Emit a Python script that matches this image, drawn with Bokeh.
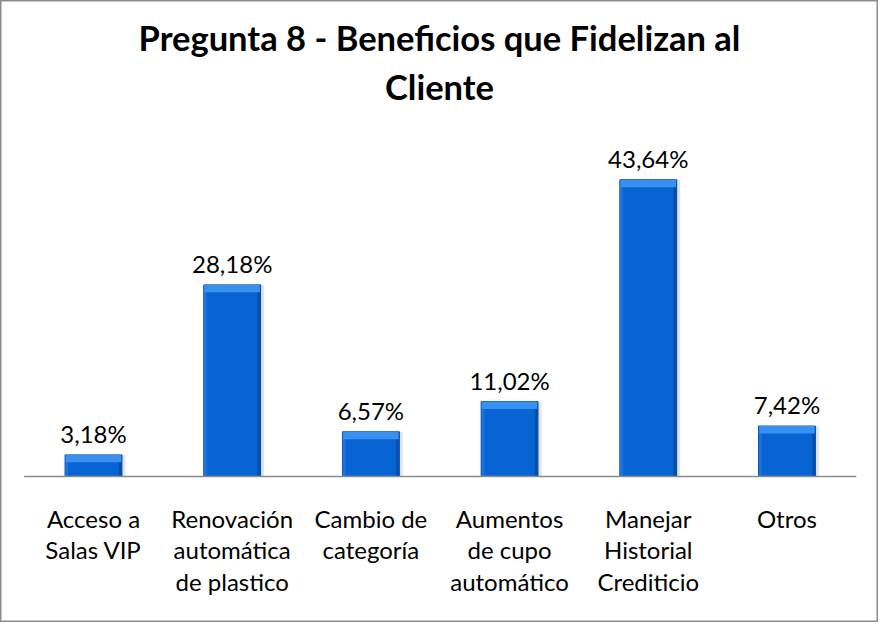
from bokeh.plotting import figure
from bokeh.models import Range1d, ColumnDataSource
from bokeh.core.properties import value
from bokeh.embed import file_html
from bokeh.resources import INLINE

title_lines = ["Pregunta 8 - Beneficios que Fidelizan al", "Cliente"]
categories = ["Acceso a\nSalas VIP", "Renovación\nautomática\nde plastico", "Cambio de\ncategoría",
              "Aumentos\nde cupo\nautomático", "Manejar\nHistorial\nCrediticio", "Otros"]
values = [3.18, 28.18, 6.57, 11.02, 43.64, 7.42]
labels = ["3,18%", "28,18%", "6,57%", "11,02%", "43,64%", "7,42%"]

FONT = "Lato"
W, H = 878, 622
BW = 0.41
xs = list(range(len(categories)))

p = figure(width=W, height=H, output_backend="svg", toolbar_location=None,
           x_range=Range1d(-0.6705, len(categories) - 1 + 0.66),
           y_range=Range1d(-21.47, 70.0), min_border=0)
p.axis.visible = False
p.grid.visible = False
p.background_fill_color = "white"
p.border_fill_color = "white"
p.outline_line_color = "#8c8c8c"
p.outline_line_width = 2

src = ColumnDataSource(dict(x=xs, top=values, lab=labels, cat=categories,
                            hl=[v - 1.1 for v in values],
                            sh=[x + 0.025 for x in xs],
                            rx=[x + BW / 2 - 0.012 for x in xs],
                            lx=[x - BW / 2 + 0.012 for x in xs]))
# shadow
p.vbar(x="sh", top="top", bottom=0, width=BW, source=src, fill_color="#c8c8c8",
       fill_alpha=0.5, line_color=None)
# body
p.vbar(x="x", top="top", bottom=0, width=BW, source=src, fill_color="#0864d2",
       line_color="#0a4b9c", line_width=1)
# side shading
p.vbar(x="rx", top="top", bottom=0, width=0.022, source=src, fill_color="#0450a8", line_color=None)
p.vbar(x="lx", top="top", bottom=0, width=0.022, source=src, fill_color="#1a74de", line_color=None)
# top bevel
p.vbar(x="x", top="top", bottom="hl", width=BW - 0.01, source=src, fill_color="#3890f0",
       line_color=None)

# baseline axis
p.segment(x0=[-0.5], y0=[0], x1=[len(categories) - 0.5], y1=[0], line_color="#8c8c8c", line_width=1.5)

p.text(x="x", y="top", text="lab", source=src, text_align="center", text_baseline="bottom",
       y_offset=-7, text_font=value(FONT), text_font_size="24px", text_color="#000000")
p.text(x="x", y=0, text="cat", source=src, text_align="center", text_baseline="top",
       y_offset=27, text_font=value(FONT), text_font_size="24px", text_color="#000000",
       text_line_height=1.1)

# title
xmid = (p.x_range.start + p.x_range.end) / 2
p.text(x=[xmid], y=[70.0], text=["\n".join(title_lines)], text_align="center", text_baseline="top",
       y_offset=16, text_font=value(FONT), text_font_style="bold", text_font_size="34.5px",
       text_color="#000000", text_line_height=1.21)

open("out.html", "w").write(file_html(p, INLINE))
